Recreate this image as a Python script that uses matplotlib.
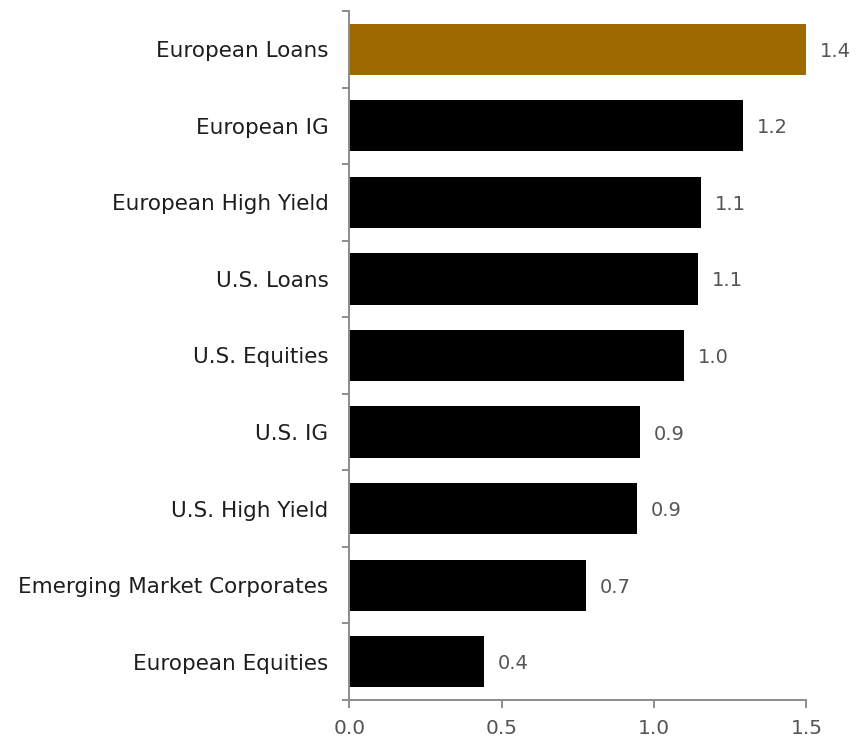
import numpy as np
import matplotlib
matplotlib.use("Agg")
import matplotlib.pyplot as plt

# Datos
categorias = ["European Loans", "European IG", "European High Yield", "U.S. Loans",
              "U.S. Equities", "U.S. IG", "U.S. High Yield",
              "Emerging Market Corporates", "European Equities"]
valores = [1.43, 1.23, 1.10, 1.09, 1.048, 0.91, 0.90, 0.74, 0.42]
colores = ["#9C6A00"] + ["#000000"] * 8

plt.rcParams['font.family'] = ['DejaVu Sans']

fig = plt.figure(figsize=(8.68, 7.39), dpi=100)
ax = fig.add_axes([0.4024, 0.0528, 0.5267, 0.9323])

y = np.arange(len(categorias))
ax.barh(y, valores, height=0.67, color=colores)

# etiquetas de valor al final de cada barra
for yi, v in zip(y, valores):
    ax.annotate(f"{v:.1f}", xy=(v, yi), xytext=(10, 0), textcoords="offset points",
                va="center_baseline", ha="left", fontsize=14, color="#555555")

xmax = max(valores)
ax.set_xlim(0, xmax)
ax.set_ylim(len(categorias) - 0.5, -0.5)

# eje y: etiquetas sin marca, marcas entre categorias
ax.set_yticks(y)
ax.set_yticklabels(categorias, fontsize=15.5, color="#1e1e1e")
ax.tick_params(axis="y", which="major", length=0, pad=15)
ax.set_yticks(np.arange(-0.5, len(categorias)), minor=True)
ax.tick_params(axis="y", which="minor", length=5, width=1.4, color="#8c8c8c")

# eje x en escala 0 - 1.5
ax.set_xticks([])
k = 1.5 / xmax
sec = ax.secondary_xaxis("bottom", functions=(lambda x: x * k, lambda x: x / k))
sec.set_xticks([0.0, 0.5, 1.0, 1.5])
sec.set_xticklabels(["0.0", "0.5", "1.0", "1.5"], fontsize=14.5, color="#555555")
sec.tick_params(axis="x", length=5.5, width=1.4, color="#8c8c8c", pad=8.5)
sec.spines["bottom"].set_color("#8c8c8c")
sec.spines["bottom"].set_linewidth(1.4)

for s in ["top", "right", "bottom"]:
    ax.spines[s].set_visible(False)
ax.spines["left"].set_color("#8c8c8c")
ax.spines["left"].set_linewidth(1.4)

fig.savefig("out.png", dpi=100)
